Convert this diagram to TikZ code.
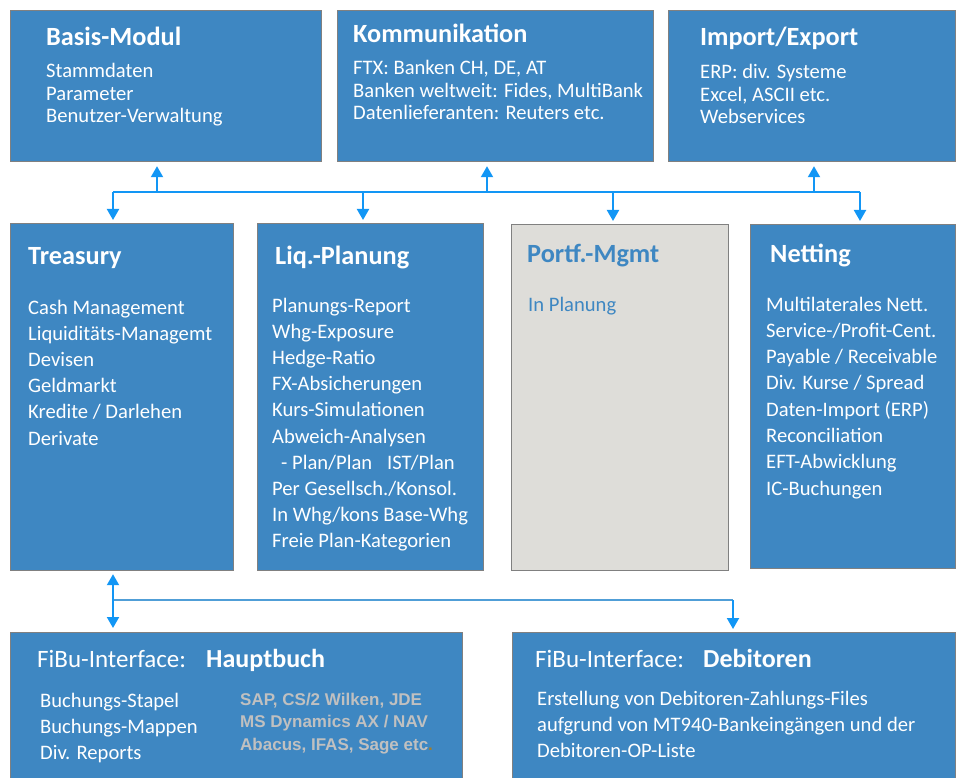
\documentclass[tikz,border=0pt]{standalone}
\usepackage{fontspec}
\setmainfont{Carlito}
\newfontfamily\arialfont{Liberation Sans}
\usetikzlibrary{arrows.meta}

\definecolor{modblue}{RGB}{62,135,194}
\definecolor{framegray}{RGB}{128,128,128}
\definecolor{plangray}{RGB}{222,221,217}
\definecolor{linkblue}{RGB}{18,150,245}
\definecolor{lowblue}{RGB}{80,158,215}
\definecolor{sysgray}{RGB}{192,192,192}
\definecolor{dotbrown}{RGB}{165,125,40}

\tikzset{
  modbox/.style={draw=framegray, line width=1.2pt, fill=modblue, anchor=north west, inner sep=0pt},
  planbox/.style={modbox, fill=plangray},
  modtitle/.style={anchor=base west, inner sep=0pt, text=white, font=\fontsize{26.3}{30}\selectfont\bfseries},
  moditem/.style={anchor=base west, inner sep=0pt, text=white, font=\fontsize{20.6}{24}\selectfont},
  fibu/.style={anchor=base west, inner sep=0pt, text=white, font=\fontsize{25}{29}\selectfont},
  sysitem/.style={anchor=base west, inner sep=0pt, text=sysgray, font=\arialfont\bfseries\fontsize{17}{20}\selectfont},
  link/.style={draw=linkblue, line width=2pt, >={Triangle[length=11pt,width=12pt]}},
  lowline/.style={draw=lowblue, line width=1.5pt},
}

\begin{document}
\begin{tikzpicture}[x=1pt,y=-1pt]
\clip (0,0) rectangle (956,778);

% top row
\node[modbox, minimum width=311pt, minimum height=151pt] (basis) at (10,10) {};
\node[modbox, minimum width=316pt, minimum height=151pt] (komm) at (337,10) {};
\node[modbox, minimum width=287pt, minimum height=151pt] (import) at (668,10) {};

\node[modtitle] (basis-t) at (46,46) {Basis-Modul};
\foreach \t [count=\i] in {Stammdaten, Parameter, Benutzer-Verwaltung}
  \node[moditem] (basis-\i) at (46,55.5+22.5*\i) {\t};

\node[modtitle] (komm-t) at (353,43) {Kommunikation};
\foreach \t [count=\i] in {{FTX: Banken CH, DE, AT},{Banken weltweit: Fides, MultiBank},{Datenlieferanten: Reuters etc.}}
  \node[moditem] (komm-\i) at (353,52.5+22.5*\i) {\t};

\node[modtitle] (import-t) at (700,46) {Import/Export};
\foreach \t [count=\i] in {{ERP: div. Systeme},{Excel, ASCII etc.},Webservices}
  \node[moditem] (import-\i) at (700,56.5+22.5*\i) {\t};

% middle row
\node[modbox, minimum width=223pt, minimum height=347pt] (treasury) at (10,223) {};
\node[modbox, minimum width=226pt, minimum height=347pt] (liq) at (257,223) {};
\node[planbox, minimum width=217pt, minimum height=346pt] (portf) at (511,224) {};
\node[modbox, minimum width=205pt, minimum height=344pt] (netting) at (750,224) {};

\node[modtitle] (treasury-t) at (28,265) {Treasury};
\foreach \t [count=\i] in {Cash Management, Liquiditäts-Managemt, Devisen, Geldmarkt, Kredite / Darlehen, Derivate}
  \node[moditem] (treasury-\i) at (28,287.8+26.2*\i) {\t};

\node[modtitle] (liq-t) at (275,265) {Liq.-Planung};
\foreach \t [count=\i] in {Planungs-Report, Whg-Exposure, Hedge-Ratio, FX-Absicherungen, Kurs-Simulationen, Abweich-Analysen,
    {\hspace*{9pt}- Plan/Plan\hspace{15pt}IST/Plan}, Per Gesellsch./Konsol., In Whg/kons Base-Whg, Freie Plan-Kategorien}
  \node[moditem] (liq-\i) at (272,285.8+26.2*\i) {\t};

\node[modtitle, text=modblue] (portf-t) at (527,262) {Portf.-Mgmt};
\node[moditem, text=modblue] (portf-1) at (528,311) {In Planung};

\node[modtitle] (netting-t) at (770,262) {Netting};
\foreach \t [count=\i] in {Multilaterales Nett., Service-/Profit-Cent., Payable / Receivable, Div. Kurse / Spread,
    Daten-Import (ERP), Reconciliation, EFT-Abwicklung, IC-Buchungen}
  \node[moditem] (netting-\i) at (766,284.7+26.3*\i) {\t};

% bottom row
\node[modbox, minimum width=452pt, minimum height=153pt] (hauptbuch) at (10,632) {};
\node[modbox, minimum width=443pt, minimum height=153pt] (debitoren) at (512,632) {};

\node[fibu] (hauptbuch-f) at (37,667) {FiBu-Interface:};
\node[fibu, font=\fontsize{26}{30}\selectfont\bfseries] (hauptbuch-t) at (206,667) {Hauptbuch};
\foreach \t [count=\i] in {Buchungs-Stapel, Buchungs-Mappen, Div. Reports}
  \node[moditem] (hauptbuch-\i) at (40,681+26*\i) {\t};
\foreach \t [count=\i] in {{SAP, CS/2 Wilken, JDE},{MS Dynamics AX / NAV},{Abacus, IFAS, Sage etc\textcolor{dotbrown}{.}}}
  \node[sysitem] (system-\i) at (240,682.5+22.5*\i) {\t};

\node[fibu] (debitoren-f) at (535,667) {FiBu-Interface:};
\node[fibu, font=\fontsize{26}{30}\selectfont\bfseries] (debitoren-t) at (703,667) {Debitoren};
\foreach \t [count=\i] in {Erstellung von Debitoren-Zahlungs-Files, aufgrund von MT940-Bankeingängen und der, Debitoren-OP-Liste}
  \node[moditem] (debitoren-\i) at (537,679+26*\i) {\t};

% connectors top
\coordinate (busW) at (113,192);
\coordinate (busE) at (860,192);
\coordinate (up-basis) at (157,192);
\coordinate (up-komm) at (487,192);
\coordinate (up-import) at (814,192);
\coordinate (down-liq) at (363,192);
\coordinate (down-portf) at (613,192);
\draw[link] (busW) -- (busE);
\draw[link,->,shorten >=4pt] (up-basis) -- (up-basis |- basis.south);
\draw[link,->,shorten >=4pt] (up-komm) -- (up-komm |- komm.south);
\draw[link,->,shorten >=4pt] (up-import) -- (up-import |- import.south);
\draw[link,->,shorten >=3pt] (busW) -- (busW |- treasury.north);
\draw[link,->,shorten >=3pt] (down-liq) -- (down-liq |- liq.north);
\draw[link,->,shorten >=3pt] (down-portf) -- (down-portf |- portf.north);
\draw[link,->,shorten >=3pt] (busE) -- (busE |- netting.north);

% connectors bottom
\coordinate (lowW) at (113,600);
\coordinate (lowE) at (733,600);
\draw[lowline] (lowW) -- (lowE);
\draw[link,<->,shorten <=3pt,shorten >=4pt] (lowW |- treasury.south) -- (lowW |- hauptbuch.north);
\draw[link,->,shorten >=3pt] (lowE) -- (lowE |- debitoren.north);
\end{tikzpicture}
\end{document}
